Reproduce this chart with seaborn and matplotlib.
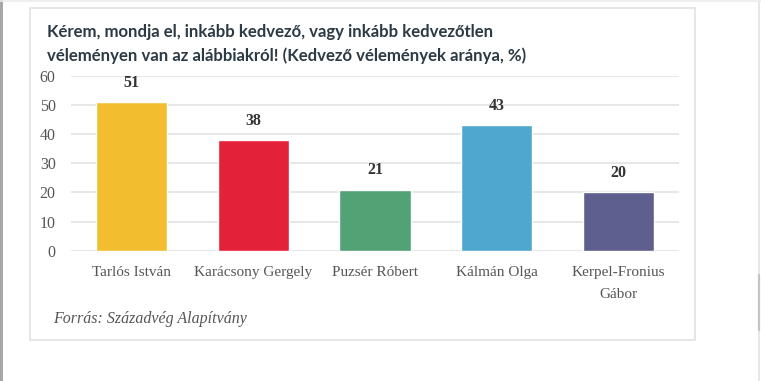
import matplotlib
matplotlib.use('Agg')
import matplotlib.pyplot as plt
import seaborn as sns
import pandas as pd
from matplotlib.patches import Rectangle
from matplotlib.lines import Line2D

# data
names = ['Tarlós István', 'Karácsony Gergely', 'Puzsér Róbert', 'Kálmán Olga', 'Kerpel-Fronius\nGábor']
values = [51, 38, 21, 43, 20]
colors = ['#F2BE30', '#E32138', '#52A276', '#4FA7CF', '#5F5F8F']
yticks = [0, 10, 20, 30, 40, 50, 60]

title = ('Kérem, mondja el, inkább kedvező, vagy inkább kedvezőtlen\n'
         'véleményen van az alábbiakról! (Kedvező vélemények aránya, %)')
source = 'Forrás: Századvég Alapítvány'

sns.set_theme(style='white')
plt.rcParams['font.family'] = ['Liberation Serif', 'DejaVu Serif']

df = pd.DataFrame({'name': names, 'value': values})

W, H = 761, 381
fig = plt.figure(figsize=(W / 100, H / 100), dpi=100)
fig.patch.set_facecolor('white')

# panel frame + screenshot edges
fig.add_artist(Rectangle((30 / W, 1 - 340 / H), 665 / W, 332 / H, transform=fig.transFigure,
                         fill=False, edgecolor='#e2e2e2', linewidth=1.2))
fig.add_artist(Rectangle((0, 0), 3 / W, 1, transform=fig.transFigure,
                         facecolor='#a8a8a8', edgecolor='none'))
fig.add_artist(Line2D([759 / W, 759 / W], [0, 1], transform=fig.transFigure,
                      color='#e4e4e4', linewidth=1.2))
fig.add_artist(Line2D([759 / W, 759 / W], [1 - 330 / H, 1 - 275 / H], transform=fig.transFigure,
                      color='#c4c4c4', linewidth=1.6))
fig.add_artist(Line2D([0, 1], [1 - 0.8 / H, 1 - 0.8 / H], transform=fig.transFigure,
                      color='#ececec', linewidth=1.2))

ax = fig.add_axes([71 / W, 1 - 250.7 / H, 608 / W, 174.7 / H])
sns.barplot(data=df, x='name', y='value', hue='name', palette=colors,
            width=0.585, legend=False, ax=ax, saturation=1)

ax.set_xlim(-0.5, 4.5)
ax.set_ylim(0, 60)
ax.set_yticks(yticks)
ax.yaxis.grid(True, color='#e0e0e0', linewidth=1.1)
ax.set_axisbelow(True)
for s in ax.spines.values():
    s.set_visible(False)
ax.set_xlabel('')
ax.set_ylabel('')
ax.tick_params(axis='y', length=0, pad=11, labelsize=11.5, labelcolor='#555555')
ax.tick_params(axis='x', length=0, pad=11, labelsize=11, labelcolor='#555555')
for lbl in ax.get_xticklabels():
    lbl.set_linespacing(1.95)
    lbl.set_verticalalignment('top')

for i, v in enumerate(values):
    ax.annotate(f'{v}', (i, v), xytext=(0, 8), textcoords='offset points',
                ha='center', va='bottom', fontsize=11.5, fontweight='bold', color='#333333')

fig.text(47 / W, 1 - 44 / H, title, family=['Lato', 'DejaVu Sans'], fontweight='bold',
         fontsize=12.1, color='#2b3a44', ha='left', va='center', linespacing=1.5)
fig.text(53 / W, 1 - 319 / H, source, fontsize=11.5, style='italic', color='#555555',
         ha='left', va='center')

fig.savefig('out.png', dpi=100)
